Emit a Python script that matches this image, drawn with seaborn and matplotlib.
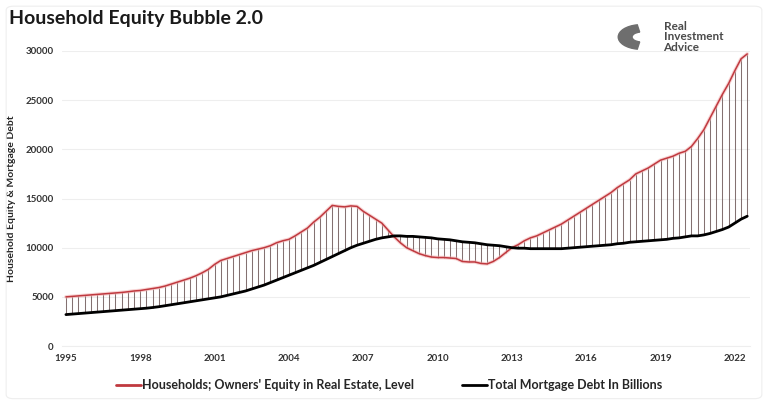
import numpy as np
import pandas as pd
import seaborn as sns
import matplotlib.pyplot as plt
from matplotlib.patches import FancyBboxPatch, Wedge

# Quarterly values, 1995Q1 .. 2022Q3 (billions)
equity = [
    5000, 5050, 5100, 5150,      # 1995
    5200, 5250, 5300, 5350,      # 1996
    5400, 5450, 5520, 5600,      # 1997
    5650, 5750, 5850, 5950,      # 1998
    6100, 6300, 6500, 6700,      # 1999
    6900, 7150, 7450, 7800,      # 2000
    8300, 8700, 8900, 9100,      # 2001
    9300, 9500, 9700, 9850,      # 2002
    10000, 10200, 10500, 10700,  # 2003
    10850, 11200, 11600, 12000,  # 2004
    12600, 13100, 13700, 14300,  # 2005
    14200, 14150, 14250, 14200,  # 2006
    13700, 13300, 12900, 12500,  # 2007
    11800, 11100, 10500, 10000,  # 2008
    9700, 9400, 9200, 9050,      # 2009
    9000, 9000, 8950, 8900,      # 2010
    8600, 8550, 8550, 8400,      # 2011
    8350, 8600, 9000, 9500,      # 2012
    10000, 10300, 10700, 11000,  # 2013
    11200, 11500, 11800, 12100,  # 2014
    12400, 12800, 13200, 13600,  # 2015
    14000, 14400, 14800, 15200,  # 2016
    15600, 16100, 16500, 16900,  # 2017
    17500, 17800, 18100, 18500,  # 2018
    18900, 19100, 19300, 19600,  # 2019
    19800, 20300, 21100, 22000,  # 2020
    23200, 24400, 25600, 26700,  # 2021
    28000, 29200, 29700,         # 2022
]

mortgage = [
    3200, 3250, 3300, 3350,
    3400, 3450, 3500, 3550,
    3600, 3650, 3700, 3750,
    3800, 3850, 3920, 4000,
    4100, 4200, 4300, 4400,
    4500, 4600, 4700, 4800,
    4900, 5000, 5150, 5300,
    5450, 5600, 5800, 6000,
    6200, 6450, 6700, 6950,
    7200, 7450, 7700, 7950,
    8200, 8500, 8800, 9100,
    9400, 9700, 10000, 10250,
    10450, 10650, 10850, 11000,
    11100, 11200, 11200, 11150,
    11150, 11100, 11050, 11000,
    10900, 10850, 10800, 10700,
    10600, 10550, 10500, 10400,
    10300, 10250, 10200, 10100,
    10000, 9950, 9950, 9900,
    9900, 9900, 9900, 9900,
    9900, 9950, 10000, 10050,
    10100, 10150, 10200, 10250,
    10300, 10400, 10450, 10550,
    10600, 10650, 10700, 10750,
    10800, 10850, 10950, 11000,
    11100, 11200, 11200, 11300,
    11450, 11650, 11850, 12100,
    12500, 12900, 13200,
]

tick_years = ['1995', '1998', '2001', '2004', '2007', '2010', '2013', '2016', '2019', '2022']
y_ticks = [0, 5000, 10000, 15000, 20000, 25000, 30000]

df = pd.DataFrame({'q': np.arange(len(equity)), 'equity': equity, 'mortgage': mortgage})

sns.set_style('white')
plt.rcParams['font.family'] = ['Lato', 'DejaVu Sans']

fig = plt.figure(figsize=(7.68, 4.11), dpi=100)
ax = fig.add_axes([0.081, 0.158, 0.896, 0.718])

# high-low lines between the two series
ax.vlines(df['q'], df[['equity', 'mortgage']].min(axis=1), df[['equity', 'mortgage']].max(axis=1),
          color='#6e5858', linewidth=0.75, alpha=0.85, zorder=1)

sns.lineplot(data=df, x='q', y='equity', ax=ax, color='#f2b0b0', linewidth=2.6, alpha=0.55, zorder=2)
sns.lineplot(data=df, x='q', y='equity', ax=ax, color='#c0393f', linewidth=1.1, zorder=3,
             label="Households; Owners' Equity in Real Estate, Level")
sns.lineplot(data=df, x='q', y='mortgage', ax=ax, color='black', linewidth=2.0, zorder=3,
             label='Total Mortgage Debt In Billions')

ax.set_xlim(-0.6, 110.5)
ax.set_ylim(0, 30000)
ax.set_yticks(y_ticks)
ax.set_yticklabels([str(v) for v in y_ticks], fontsize=7, fontweight='bold', color='#333333')
ax.set_xticks(np.arange(0, len(equity), 12))
ax.set_xticklabels(tick_years, fontsize=7, fontweight='bold', color='#333333')
ax.tick_params(axis='both', length=0, pad=6)
ax.grid(axis='y', color='#eeeeee', linewidth=0.8)
for s in ['top', 'right', 'left']:
    ax.spines[s].set_visible(False)
ax.spines['bottom'].set_color('#eeeeee')
ax.set_xlabel('')
ax.set_ylabel('Household Equity & Mortgage Debt', fontsize=7.5, fontweight='bold', labelpad=7)

leg = ax.legend(loc='upper center', bbox_to_anchor=(0.475, -0.075), ncol=2, frameon=False,
                prop={'size': 9, 'weight': 'bold'}, handlelength=2.0, handletextpad=0.1,
                columnspacing=3.8)
for line in leg.get_lines():
    line.set_linewidth(2)
leg.get_lines()[0].set_color('#c0393f')

fig.text(0.012, 0.955, 'Household Equity Bubble 2.0', fontsize=14, fontweight='bold',
         color='#1a1a1a', va='center')

# logo
fig.patches.append(Wedge((0.835, 0.91), 0.03, 100, 260, width=0.018, color='#6e6e6e',
                         transform=fig.transFigure))
fig.text(0.864, 0.91, 'Real\nInvestment\nAdvice', fontsize=8.5, fontweight='bold',
         color='#4a4a4a', va='center', linespacing=0.9)

fig.patches.append(FancyBboxPatch((0.008, 0.03), 0.984, 0.955, boxstyle='round,pad=0,rounding_size=0.01',
                                  transform=fig.transFigure, fill=False, edgecolor='#eeeeee', linewidth=0.8))

fig.savefig('out.png', dpi=100, facecolor='white')
